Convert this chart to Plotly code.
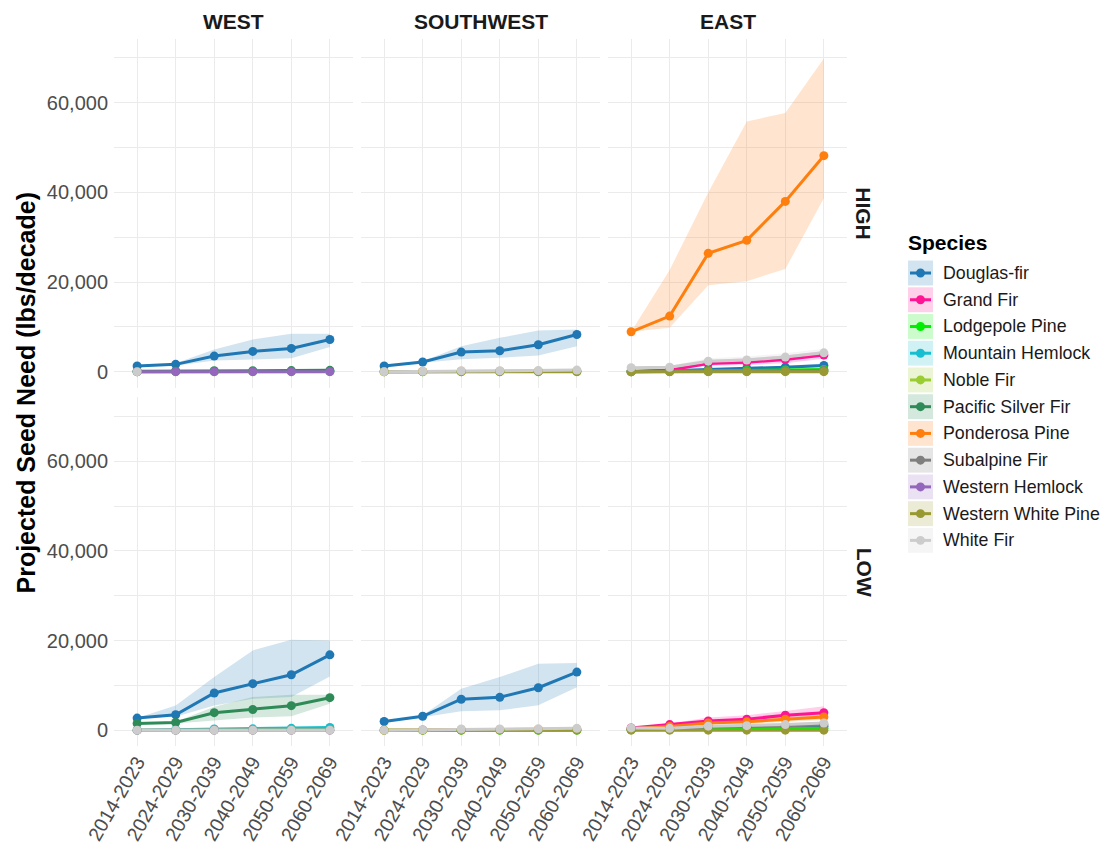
import plotly.graph_objects as go

PERIODS = ["2014-2023", "2024-2029", "2030-2039", "2040-2049", "2050-2059", "2060-2069"]
REGIONS = ["WEST", "SOUTHWEST", "EAST"]
SCENARIOS = ["HIGH", "LOW"]
SPECIES = ["Douglas-fir", "Grand Fir", "Lodgepole Pine", "Mountain Hemlock", "Noble Fir",
           "Pacific Silver Fir", "Ponderosa Pine", "Subalpine Fir", "Western Hemlock",
           "Western White Pine", "White Fir"]
COLORS = ["#1F77B4", "#FF1493", "#00EE00", "#17BECF", "#9ACD32", "#2E8B57",
          "#FF7F0E", "#7F7F7F", "#9467BD", "#999933", "#CCCCCC"]
Y_TICKS = [0, 20000, 40000, 60000]
Y_MINOR = [10000, 30000, 50000, 70000]

ZEROS = [0, 0, 0, 0, 0, 0]

# (mean, lower, upper)
west_high = {
    "Douglas-fir": ([1260, 1630, 3480, 4520, 5190, 7190],
                    [1260, 1300, 2500, 2700, 3000, 5500],
                    [1260, 1900, 4950, 7200, 8450, 8450]),
    "Mountain Hemlock": ([0, 20, 40, 50, 60, 80], None, None),
    "Noble Fir": ([0, 0, 10, 10, 10, 20], None, None),
    "Pacific Silver Fir": ([100, 150, 200, 200, 250, 300], None, None),
    "Western Hemlock": (ZEROS, None, None),
    "White Fir": ([0, None, None, None, None, None], None, None),
}
west_low = {
    "Douglas-fir": ([2700, 3450, 8300, 10370, 12370, 16800],
                    [2700, 3000, 5500, 7000, 7400, 12000],
                    [2700, 5500, 11850, 17800, 20200, 20000]),
    "Mountain Hemlock": ([0, 100, 250, 300, 400, 600],
                         [0, 50, 150, 200, 250, 400],
                         [0, 150, 350, 450, 550, 800]),
    "Noble Fir": ([0, 0, 20, 30, 40, 50], None, None),
    "Pacific Silver Fir": ([1480, 1700, 3900, 4600, 5460, 7250],
                           [1480, 1500, 2200, 2800, 3100, 5900],
                           [1480, 1900, 5200, 7400, 7900, 7900]),
    "Western Hemlock": (ZEROS, None, None),
    "White Fir": (ZEROS, None, None),
}
southwest_high = {
    "Douglas-fir": ([1260, 2150, 4370, 4670, 6000, 8300],
                    [1260, 2000, 2750, 3100, 3600, 5700],
                    [1260, 2300, 5700, 7550, 9200, 9400]),
    "Lodgepole Pine": ([0, 0, 0, 0, 0, 50], None, None),
    "Ponderosa Pine": ([0, 50, 80, 100, 120, 150], None, None),
    "Western White Pine": (ZEROS, None, None),
    "White Fir": ([0, 100, 200, 200, 250, 350],
                  [0, 50, 120, 120, 150, 200],
                  [0, 150, 300, 300, 350, 500]),
}
southwest_low = {
    "Douglas-fir": ([1930, 3100, 6900, 7330, 9470, 12960],
                    [1930, 2900, 4200, 4450, 5550, 9600],
                    [1930, 3300, 9250, 11850, 14800, 15000]),
    "Lodgepole Pine": (ZEROS, None, None),
    "Ponderosa Pine": ([0, 50, 100, 120, 150, 200], None, None),
    "Western White Pine": (ZEROS, None, None),
    "White Fir": ([0, 100, 250, 250, 300, 400],
                  [0, 50, 150, 150, 200, 250],
                  [0, 150, 350, 350, 450, 600]),
}
east_high = {
    "Douglas-fir": ([100, 200, 500, 700, 1000, 1400],
                    [100, 150, 350, 500, 700, 1000],
                    [100, 250, 650, 900, 1300, 1800]),
    "Grand Fir": ([0, 400, 1800, 2100, 2700, 3700],
                  [0, 250, 1300, 1500, 1900, 2900],
                  [0, 700, 2600, 3000, 3600, 4600]),
    "Lodgepole Pine": ([0, 100, 200, 300, 400, 500], None, None),
    "Noble Fir": ([0, 0, 50, 50, 100, 100], None, None),
    "Ponderosa Pine": ([8900, 12400, 26400, 29300, 38000, 48200],
                       [8900, 9800, 19300, 20200, 22900, 38700],
                       [8900, 22700, 40000, 55850, 57700, 69900]),
    "Subalpine Fir": ([0, 50, 100, 150, 200, 300], None, None),
    "Western White Pine": (ZEROS, None, None),
    "White Fir": ([900, 1000, 2350, 2600, 3250, 4200],
                  [900, 800, 1700, 1900, 2400, 3300],
                  [900, 1300, 3000, 3400, 4100, 5100]),
}
east_low = {
    "Douglas-fir": ([200, 300, 500, 600, 700, 900],
                    [200, 250, 400, 450, 550, 700],
                    [200, 350, 600, 750, 850, 1100]),
    "Grand Fir": ([500, 1250, 2050, 2450, 3330, 3900],
                  [500, 900, 1500, 1800, 2500, 3000],
                  [500, 1500, 2800, 3330, 4300, 5330]),
    "Lodgepole Pine": ([100, 150, 200, 250, 300, 400], None, None),
    "Ponderosa Pine": ([300, 800, 1600, 1850, 2450, 2950],
                       [300, 600, 1200, 1400, 1900, 2300],
                       [300, 1000, 2000, 2400, 3100, 3700]),
    "Subalpine Fir": ([200, 300, 700, 800, 1000, 1200],
                      [200, 250, 500, 600, 750, 900],
                      [200, 350, 900, 1000, 1250, 1500]),
    "Western White Pine": (ZEROS, None, None),
    "White Fir": ([500, 400, 900, 1000, 1250, 1600],
                  [500, 300, 700, 800, 1000, 1300],
                  [500, 500, 1100, 1200, 1500, 1900]),
}

PANELS = {
    ("HIGH", "WEST"): west_high, ("HIGH", "SOUTHWEST"): southwest_high, ("HIGH", "EAST"): east_high,
    ("LOW", "WEST"): west_low, ("LOW", "SOUTHWEST"): southwest_low, ("LOW", "EAST"): east_low,
}

# ---- layout geometry ----
# the page places the figure 8 px in from the top-left corner (body margin)
OFF = 8
W, H = 1109 - OFF, 856 - OFF
L, R, T, B = 114 - OFF, 262, 39 - OFF, 107
PW = W - L - R
PH = H - T - B
# screen-pixel boxes of the panels
COL_PX = [(114, 353), (361, 600), (608, 847)]
ROW_PX = [(39, 389), (399, 749)]


def px_x(p):
    return (p - OFF - L) / PW


def px_y(p):
    return (H - B - (p - OFF)) / PH


def rgba(hexc, a):
    h = hexc.lstrip("#")
    r, g, b = int(h[0:2], 16), int(h[2:4], 16), int(h[4:6], 16)
    return f"rgba({r},{g},{b},{a})"


FONT = "Liberation Sans, Arial, sans-serif"
fig = go.Figure()

for ri, scen in enumerate(SCENARIOS):
    for ci, reg in enumerate(REGIONS):
        idx = ri * 3 + ci + 1
        xa = "x" if idx == 1 else f"x{idx}"
        ya = "y" if idx == 1 else f"y{idx}"
        data = PANELS[(scen, reg)]
        present = [s for s in SPECIES if s in data]
        # ribbons
        for s in present:
            m, lo, hi = data[s]
            if lo is None:
                continue
            col = COLORS[SPECIES.index(s)]
            fig.add_trace(go.Scatter(
                x=PERIODS + PERIODS[::-1], y=list(hi) + list(lo)[::-1],
                fill="toself", fillcolor=rgba(col, 0.2), line=dict(width=0),
                mode="lines", hoverinfo="skip", showlegend=False, xaxis=xa, yaxis=ya))
        # lines
        for s in present:
            m = data[s][0]
            col = COLORS[SPECIES.index(s)]
            fig.add_trace(go.Scatter(x=PERIODS, y=m, mode="lines",
                                     line=dict(color=col, width=3),
                                     showlegend=False, name=s, xaxis=xa, yaxis=ya))
        # points
        for s in present:
            m = data[s][0]
            col = COLORS[SPECIES.index(s)]
            fig.add_trace(go.Scatter(x=PERIODS, y=m, mode="markers",
                                     marker=dict(color=col, size=9),
                                     showlegend=False, name=s, xaxis=xa, yaxis=ya))

        xd = [px_x(COL_PX[ci][0]), px_x(COL_PX[ci][1])]
        yd = [px_y(ROW_PX[ri][1]), px_y(ROW_PX[ri][0])]
        xkey = "xaxis" if idx == 1 else f"xaxis{idx}"
        ykey = "yaxis" if idx == 1 else f"yaxis{idx}"
        fig.update_layout(**{
            xkey: dict(domain=xd, anchor=ya, type="category", categoryarray=PERIODS,
                       categoryorder="array", range=[-0.6, 5.6],
                       showgrid=True, gridcolor="#EBEBEB", gridwidth=1.1,
                       zeroline=False, showline=False, ticks="",
                       showticklabels=(ri == 1), tickangle=-60,
                       tickfont=dict(family=FONT, size=19.5, color="#4D4D4D")),
            ykey: dict(domain=yd, anchor=xa, range=[-3535, 74235],
                       tickvals=Y_TICKS, tickformat=",d",
                       showgrid=True, gridcolor="#EBEBEB", gridwidth=1.1,
                       minor=dict(tickvals=Y_MINOR, showgrid=True,
                                  gridcolor="#EBEBEB", gridwidth=0.6),
                       zeroline=False, showline=False, ticks="",
                       showticklabels=(ci == 0), ticklabelstandoff=5,
                       tickfont=dict(family=FONT, size=20, color="#4D4D4D")),
        })

annotations = []
# facet column strips
for ci, reg in enumerate(REGIONS):
    cx = (COL_PX[ci][0] + COL_PX[ci][1]) / 2
    annotations.append(dict(text=f"<b>{reg}</b>", x=px_x(cx), y=px_y(21), xref="paper", yref="paper",
                            showarrow=False, xanchor="center", yanchor="middle",
                            font=dict(family=FONT, size=21, color="#1A1A1A")))
# facet row strips
for ri, scen in enumerate(SCENARIOS):
    cy = (ROW_PX[ri][0] + ROW_PX[ri][1]) / 2
    annotations.append(dict(text=f"<b>{scen}</b>", x=px_x(864), y=px_y(cy), xref="paper", yref="paper",
                            showarrow=False, xanchor="center", yanchor="middle", textangle=90,
                            font=dict(family=FONT, size=21, color="#1A1A1A")))
# y title
annotations.append(dict(text="<b>Projected Seed Need (lbs/decade)</b>", x=px_x(25), y=px_y(394),
                        xref="paper", yref="paper", showarrow=False, textangle=-90,
                        xanchor="center", yanchor="middle",
                        font=dict(family=FONT, size=25, color="#000000")))
# legend (manual)
annotations.append(dict(text="<b>Species</b>", x=px_x(906), y=px_y(243), xref="paper", yref="paper",
                        showarrow=False, xanchor="left", yanchor="middle",
                        font=dict(family=FONT, size=21, color="#000000")))
shapes = []
for i, s in enumerate(SPECIES):
    col = COLORS[i]
    cy = 274 + 26.85 * i
    shapes.append(dict(type="rect", xref="paper", yref="paper",
                       x0=px_x(908), x1=px_x(933), y0=px_y(cy + 12.5), y1=px_y(cy - 12.5),
                       fillcolor=rgba(col, 0.2), line=dict(width=0)))
    shapes.append(dict(type="line", xref="paper", yref="paper",
                       x0=px_x(910), x1=px_x(931), y0=px_y(cy), y1=px_y(cy),
                       line=dict(color=col, width=3)))
    shapes.append(dict(type="circle", xref="paper", yref="paper",
                       x0=px_x(916), x1=px_x(925), y0=px_y(cy + 4.5), y1=px_y(cy - 4.5),
                       fillcolor=col, line=dict(width=0)))
    annotations.append(dict(text=s, x=px_x(941), y=px_y(cy), xref="paper", yref="paper",
                            showarrow=False, xanchor="left", yanchor="middle",
                            font=dict(family=FONT, size=17.8, color="#1A1A1A")))

fig.update_layout(width=W, height=H, margin=dict(l=L, r=R, t=T, b=B),
                  plot_bgcolor="white", paper_bgcolor="white", showlegend=False,
                  annotations=annotations, shapes=shapes,
                  font=dict(family=FONT))
fig.write_html("out.html")
